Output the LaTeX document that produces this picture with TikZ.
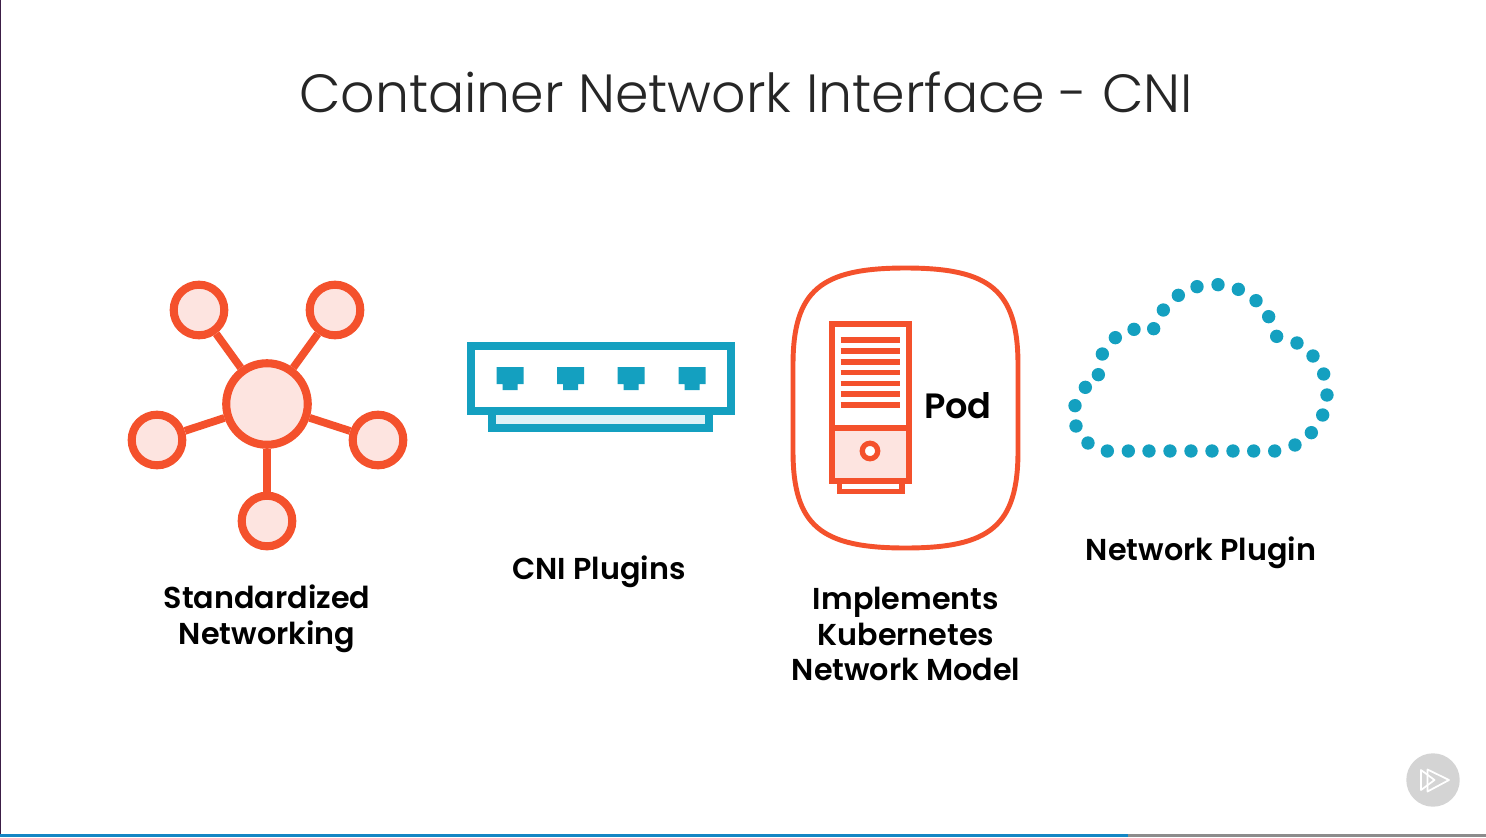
\documentclass[tikz,border=0pt]{standalone}
\usepackage{fontspec}
\setmainfont{Poppins}
\newfontfamily\titlefont{Poppins Light}
\newfontfamily\labelfont{Poppins SemiBold}
\definecolor{podorange}{RGB}{244, 81, 44}
\definecolor{podpink}{RGB}{253, 228, 224}
\definecolor{plugblue}{RGB}{20, 160, 192}
\definecolor{pluglight}{RGB}{222, 241, 246}
\definecolor{playgrey}{RGB}{212, 212, 212}
\definecolor{barblue}{RGB}{20, 134, 196}
\definecolor{bargrey}{RGB}{140, 140, 140}
\definecolor{edgepurple}{RGB}{60, 30, 70}
\tikzset{
  hubdot/.style={circle, draw=podorange, fill=podpink, line width=11.5pt, inner sep=0pt},
  spoke/.style={draw=podorange, line width=11pt},
  podline/.style={draw=podorange, line width=8pt},
  capline/.style={font=\labelfont\fontsize{43}{51}\selectfont, text=black, align=center, inner sep=0pt},
}
\begin{document}
\begin{tikzpicture}[x=0.5mm, y=-0.5mm]
  \useasboundingbox (0,0) rectangle (1486,837);
  \fill[white] (0,0) rectangle (1486,837);

  % Frame edges
  \fill[edgepurple] (0,0) rectangle (1.2,837);
  \fill[bargrey] (1128,834) rectangle (1486,837);
  \fill[barblue] (0,834) rectangle (1128,837);

  % Title
  \node[font=\titlefont\fontsize{76.5}{90}\selectfont, text=black!85, inner sep=0pt] (title) at (746, 92) {Container Network Interface - CNI};

  % Standardized networking
  \foreach \leaf/\leafx/\leafy in {leafa/199/310, leafb/335/310, leafc/157/440, leafd/378/440, leafe/267/521} {
    \node[hubdot, minimum size=72pt] (\leaf) at (\leafx, \leafy) {};
  }
  \node[hubdot, minimum size=116pt] (hub) at (267, 404) {};
  \foreach \leaf in {leafa, leafb, leafc, leafd, leafe} {
    \draw[spoke] (hub) -- (\leaf);
  }
  \node[capline] (stdlabel) at (267, 619) {Standardized\\Networking};

  % CNI plugins
  \draw[draw=plugblue, fill=pluglight, line width=11pt] (492, 409) rectangle (709, 428);
  \draw[draw=plugblue, fill=white, line width=11.5pt] (471, 346) rectangle (731, 411);
  \foreach \portx in {510, 570.5, 631, 692} {
    \fill[plugblue] (\portx-13.5, 367) -- (\portx+13.5, 367) -- (\portx+13.5, 384) -- (\portx+7.5, 384)
      -- (\portx+7.5, 390) -- (\portx-7.5, 390) -- (\portx-7.5, 384) -- (\portx-13.5, 384) -- cycle;
  }
  \node[capline] (cnilabel) at (599, 572) {CNI Plugins};

  % Pod
  \draw[podline, line width=7pt] (905.5, 268) .. controls (990, 268) and (1018, 290) .. (1018, 365)
    -- (1018, 451) .. controls (1018, 526) and (990, 548) .. (905.5, 548)
    .. controls (821, 548) and (793, 526) .. (793, 451) -- (793, 365)
    .. controls (793, 290) and (821, 268) .. (905.5, 268) -- cycle;
  \draw[podline, fill=white] (839.5, 476) rectangle (902, 491.5);
  \draw[podline, fill=white] (832, 324) rectangle (909, 428);
  \draw[podline, fill=podpink] (832, 428) rectangle (909, 481);
  \foreach \venty in {340, 351, 362, 372.5, 383.5, 394, 405} {
    \draw[podline] (840.5, \venty) -- (900, \venty);
  }
  \node[circle, draw=podorange, fill=white, line width=7.5pt, minimum size=22pt, inner sep=0pt] (podknob) at (870, 451) {};
  \node[capline, font=\labelfont\fontsize{50}{51}\selectfont] (podlabel) at (958, 406) {Pod};
  \node[capline] (modellabel) at (906, 634) {Implements\\Kubernetes\\Network Model};

  % Network plugin
  \foreach \dotx/\doty in {45/407, 48/468, 84/519, 142/543, 205/543, 267/543, 330/543, 393/543, 456/543,
    519/543, 581/543, 644/543, 705/525, 754/488, 788/435, 801/375, 791/312, 759/258, 711/219, 650/199,
    626/140, 588/92, 535/58, 474/44, 411/50, 355/76, 310/120, 281/176, 222/178, 166/203, 127/252, 115/314, 76/352} {
    \fill[plugblue] (1060+\dotx/3, 270+\doty/3) circle (9.5pt);
  }
  \node[capline] (netlabel) at (1201, 553) {Network Plugin};

  % Play badge
  \node[circle, fill=playgrey, minimum size=76pt, inner sep=0pt] (badge) at (1433, 780) {};
  \draw[white, line width=2.5pt, line join=round] (1427.5, 769.5) -- (1449, 780) -- (1427.5, 791.5) -- cycle;
  \draw[white, line width=2.5pt, line join=round] (1421, 770) -- (1434.5, 780) -- (1421, 790) -- cycle;
\end{tikzpicture}
\end{document}
